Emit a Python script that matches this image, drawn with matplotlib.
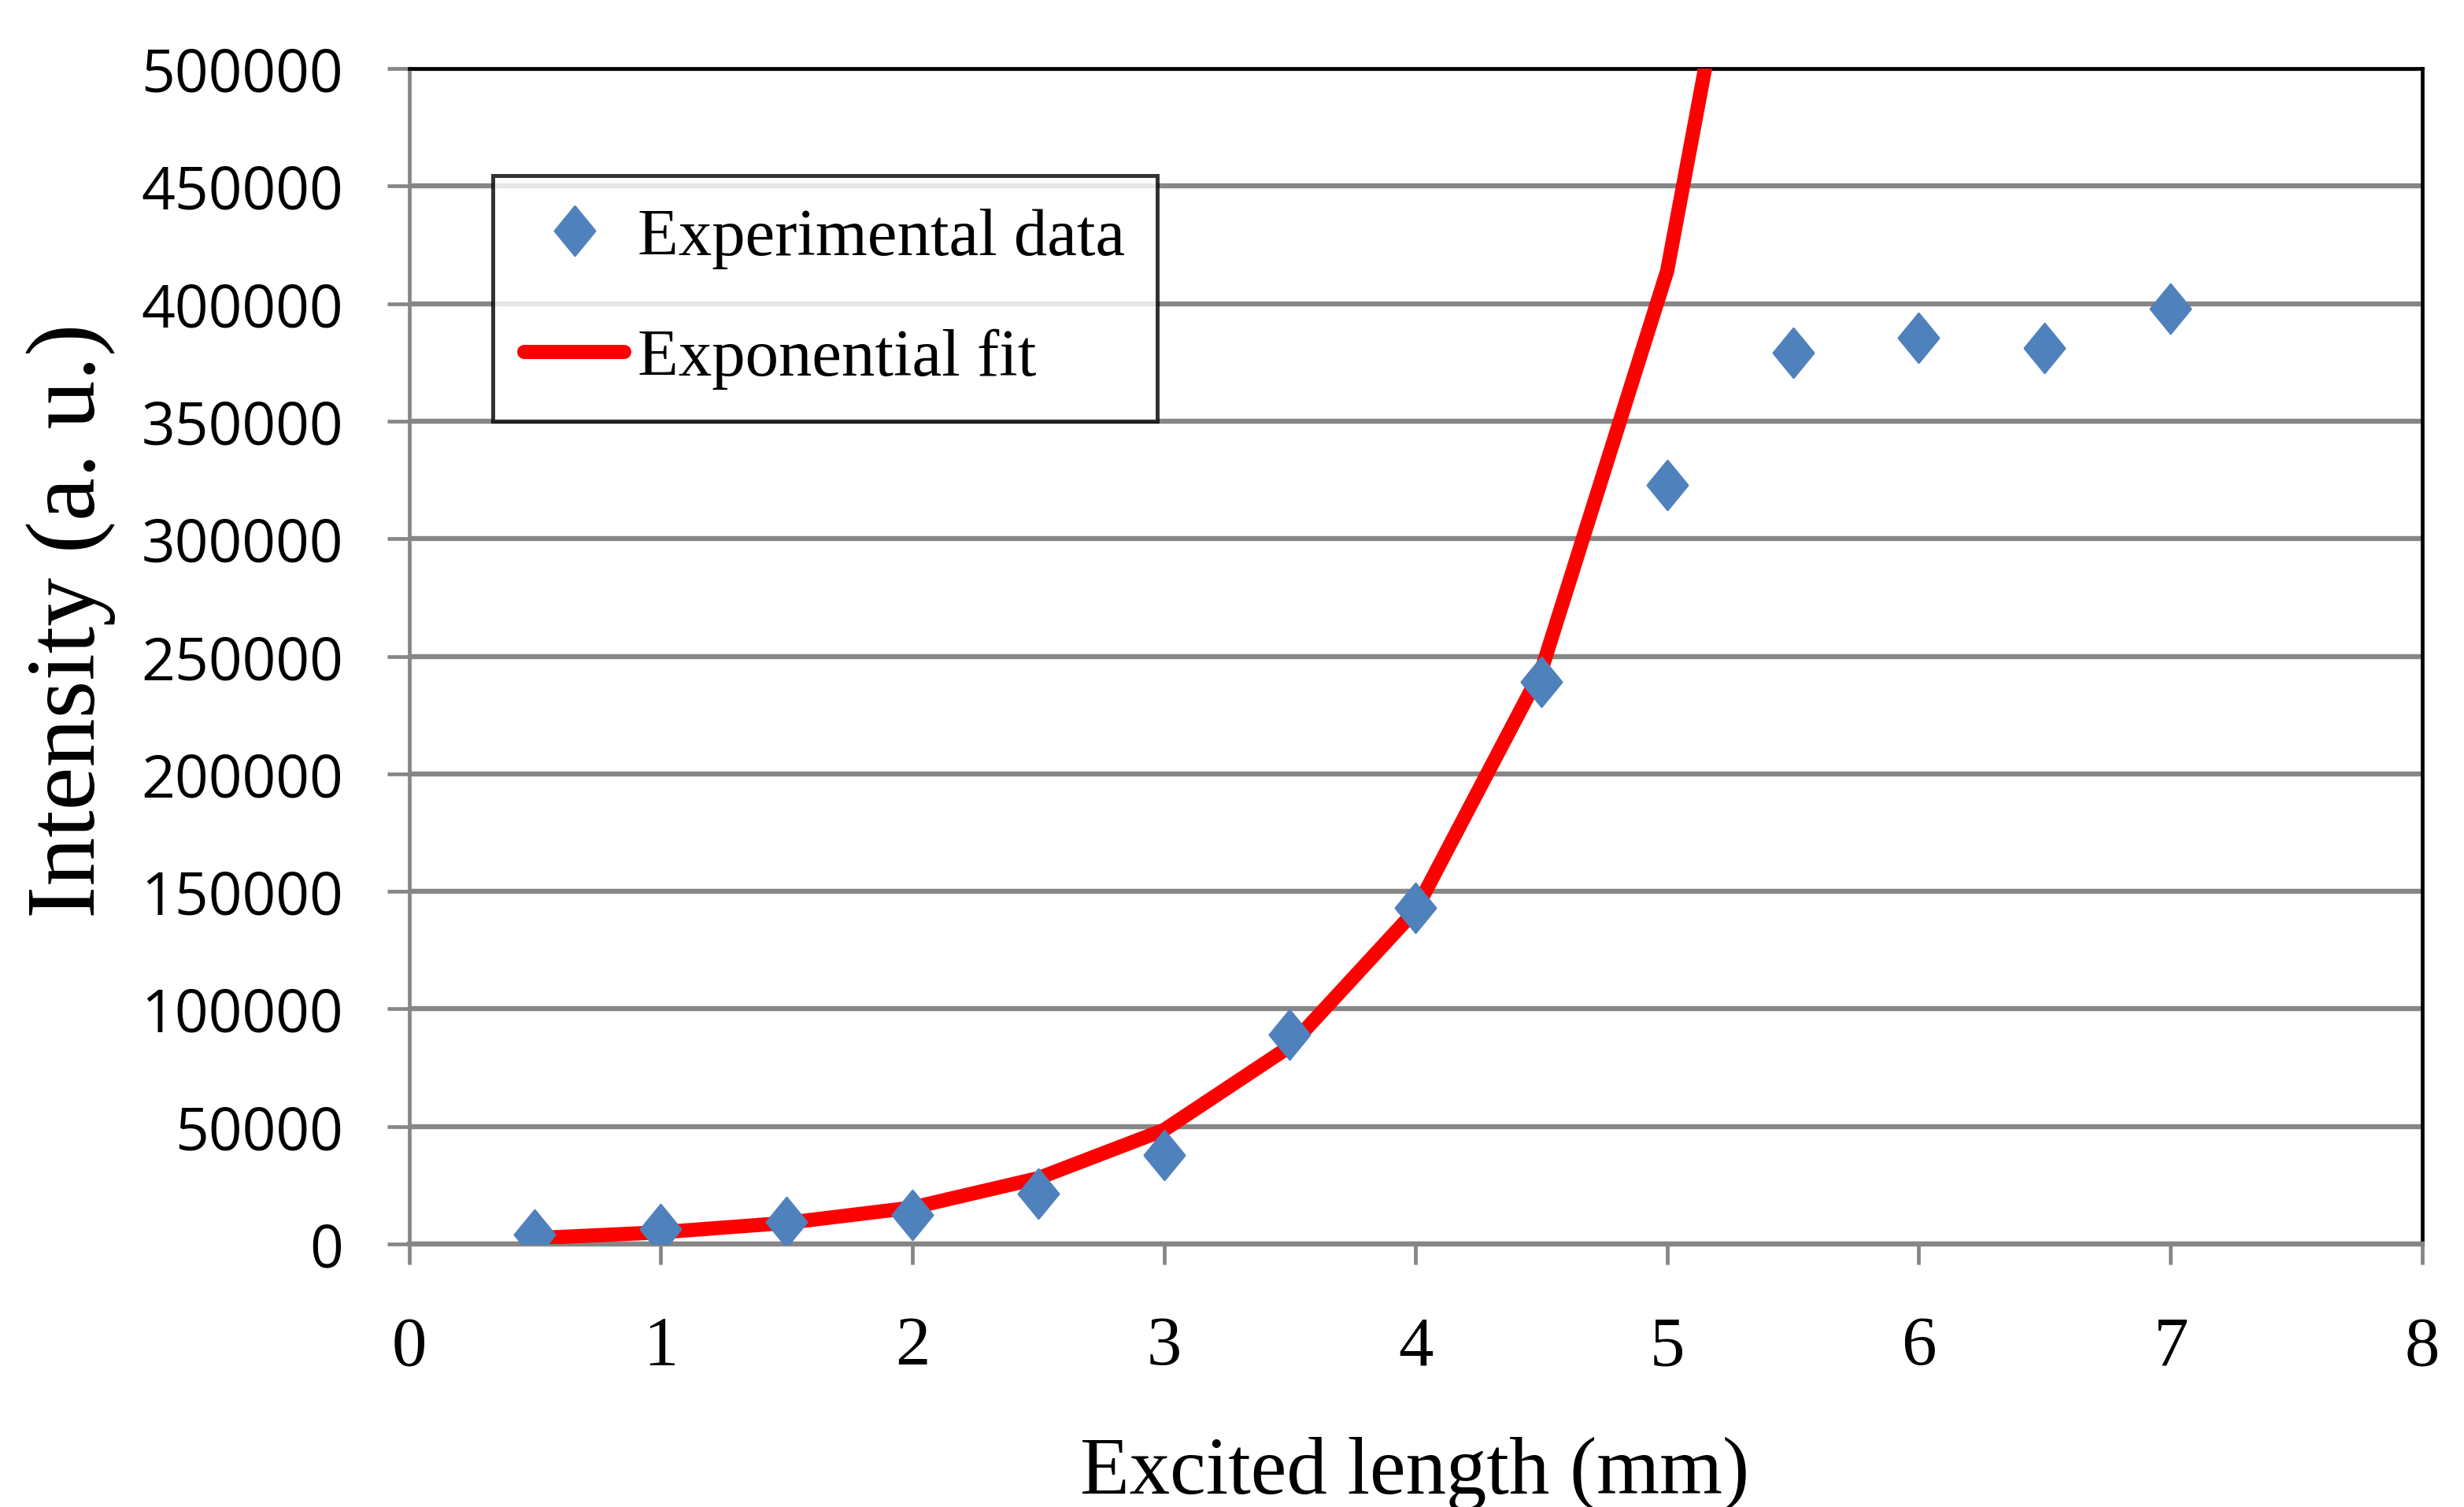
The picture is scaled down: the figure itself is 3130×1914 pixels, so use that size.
import matplotlib
matplotlib.use("Agg")
import matplotlib.pyplot as plt
from matplotlib.path import Path

# -------------------
# Data
# -------------------

length_mm = [0.5, 1.0, 1.5, 2.0, 2.5, 3.0, 3.5, 4.0, 4.5, 5.0, 5.5, 6.0, 6.5, 7.0]
intensity = [4000, 6500, 9500, 12500, 21500, 38000, 89000, 143000, 239000,
             323000, 379000, 385500, 381000, 398000]

fit_x = [0.5, 1.0, 1.5, 2.0, 2.5, 3.0, 3.5, 4.0, 4.5, 5.0, 5.5]
fit_y = [2500, 5000, 9000, 15500, 28000, 48500, 84000, 142000, 244000, 414000, 700000]

x_ticks = [0, 1, 2, 3, 4, 5, 6, 7, 8]
y_ticks = [0, 50000, 100000, 150000, 200000, 250000, 300000, 350000, 400000, 450000, 500000]

# -------------------
# Figure
# -------------------

grid_grey = "#868686"
blue = "#4F81BD"

# slightly narrow diamond like the spreadsheet marker
diamond = Path([(0, 0.5), (0.41, 0), (0, -0.5), (-0.41, 0), (0, 0.5)],
               [Path.MOVETO, Path.LINETO, Path.LINETO, Path.LINETO, Path.CLOSEPOLY])

fig = plt.figure(figsize=(31.3, 19.15), dpi=100)
ax = fig.add_axes([0.166, 0.1744, 0.817, 0.7796])

ax.plot(fit_x, fit_y, color="#FF0000", linewidth=13,
        solid_capstyle="round", solid_joinstyle="round",
        label="Exponential fit", zorder=3)

ax.plot(length_mm, intensity, linestyle="none", marker=diamond,
        markersize=45, color=blue, markeredgecolor=blue, markeredgewidth=2,
        label="Experimental data", zorder=4)

ax.set_xlim(0, 8)
ax.set_ylim(0, 500000)
ax.set_xticks(x_ticks)
ax.set_yticks(y_ticks)
ax.set_yticklabels([str(v) for v in y_ticks])
ax.set_xticklabels([str(v) for v in x_ticks])

# horizontal grid only
ax.yaxis.grid(True, color=grid_grey, linewidth=4.6)
ax.set_axisbelow(True)

for side in ["top", "right"]:
    ax.spines[side].set_color("black")
    ax.spines[side].set_linewidth(3.4)
for side in ["left", "bottom"]:
    ax.spines[side].set_color(grid_grey)
    ax.spines[side].set_linewidth(3.4)
ax.spines["bottom"].set_linewidth(4.6)

ax.tick_params(axis="y", direction="out", length=20, width=3.4,
               color=grid_grey, pad=40)
ax.tick_params(axis="x", direction="out", length=19, width=3.4,
               color=grid_grey, pad=46)

for lab in ax.get_yticklabels():
    lab.set_fontfamily("Open Sans")
    lab.set_fontsize(54)
for lab in ax.get_xticklabels():
    lab.set_fontfamily("Liberation Serif")
    lab.set_fontsize(64)

# axis titles
fig.text(0.0288, 0.5885, "Intensity (a. u.)", rotation=90,
         ha="center", va="center", fontfamily="Liberation Serif", fontsize=89)
fig.text(0.574, 0.0094, "Excited length (mm)", ha="center", va="baseline",
         fontfamily="Liberation Serif", fontsize=74)

# legend
handles, labels = ax.get_legend_handles_labels()
leg = ax.legend(handles[::-1], labels[::-1], loc="upper left",
                bbox_to_anchor=(0.0415, 0.909), borderaxespad=0,
                fancybox=False, frameon=True, edgecolor="black",
                prop={"family": "Liberation Serif", "size": 61},
                handlelength=1.5, handletextpad=0.2, labelspacing=0.9,
                borderpad=0.48, markerscale=1.0)
leg.get_frame().set_linewidth(3.6)

fig.savefig("out.png", dpi=100, facecolor="white")
